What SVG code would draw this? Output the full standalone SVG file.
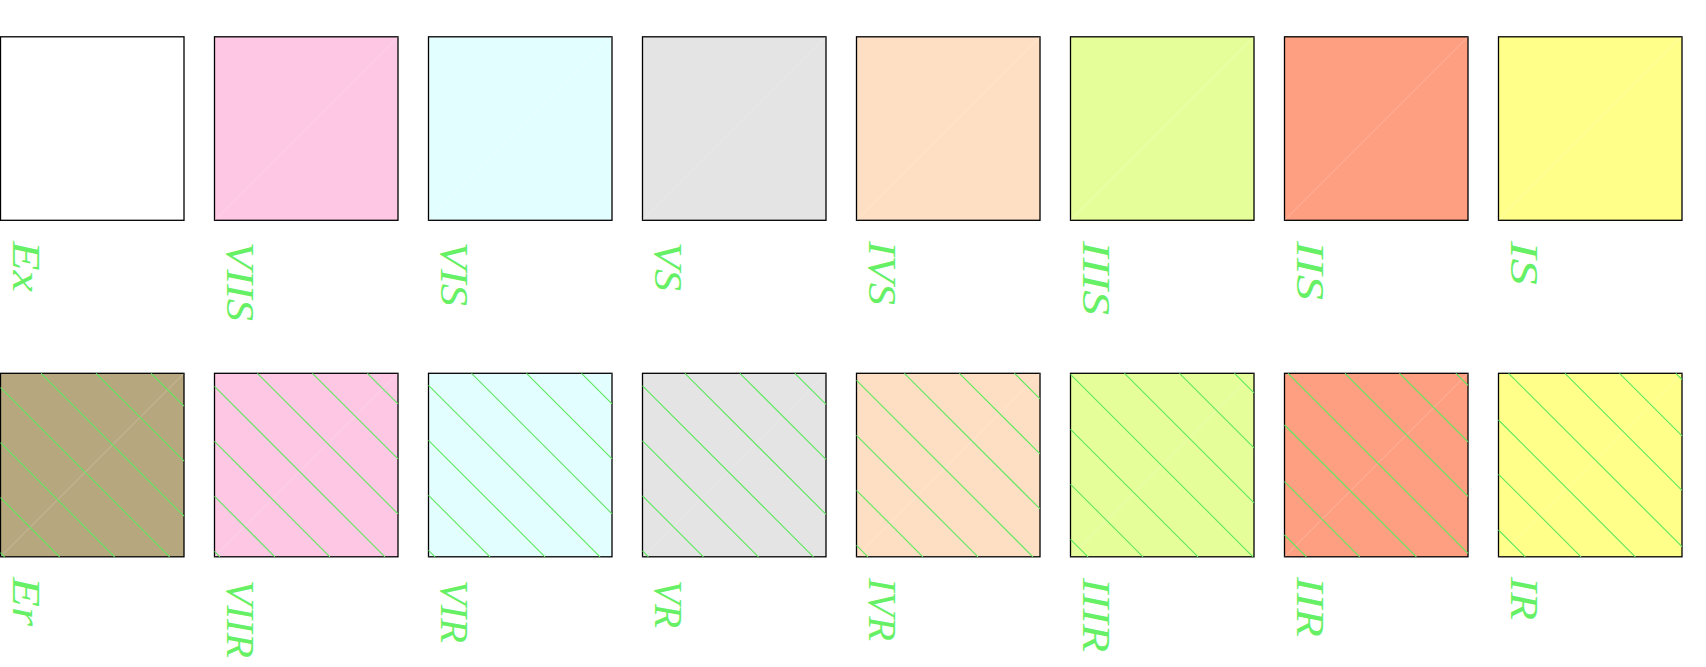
<svg xmlns="http://www.w3.org/2000/svg" width="1706" height="667" viewBox="0 0 1706 667">
<style>
.box{stroke:#000;stroke-width:1.3}
.diag{stroke:#fff;stroke-opacity:0.3;stroke-width:0.8;fill:none}
.hatch{stroke:#5ee85e;stroke-width:1.1;fill:none}
.lbl{font-family:"Liberation Serif","DejaVu Serif",serif;font-style:italic;font-size:40px;fill:#66f066}
</style>
<rect width="1706" height="667" fill="#fff"/>
<g id="connectors"></g>

<!-- top row -->
<g id="Ex">
<rect class="box" x="0.5" y="36.8" width="183.5" height="183.5" fill="#ffffff"/>
<text class="lbl" transform="translate(12.5,241) rotate(90)" textLength="51" lengthAdjust="spacingAndGlyphs">Ex</text>
</g>
<g id="VIIS">
<rect class="box" x="214.5" y="36.8" width="183.5" height="183.5" fill="#fec7e4"/>
<line class="diag" x1="214.5" y1="220.3" x2="398" y2="36.8"/>
<text class="lbl" transform="translate(226.5,242) rotate(90)" textLength="79" lengthAdjust="spacingAndGlyphs">VIIS</text>
</g>
<g id="VIS">
<rect class="box" x="428.5" y="36.8" width="183.5" height="183.5" fill="#e3fefe"/>
<line class="diag" x1="428.5" y1="220.3" x2="612" y2="36.8"/>
<text class="lbl" transform="translate(440.5,242) rotate(90)" textLength="64" lengthAdjust="spacingAndGlyphs">VIS</text>
</g>
<g id="VS">
<rect class="box" x="642.5" y="36.8" width="183.5" height="183.5" fill="#e4e4e4"/>
<line class="diag" x1="642.5" y1="220.3" x2="826" y2="36.8"/>
<text class="lbl" transform="translate(654.5,242) rotate(90)" textLength="49" lengthAdjust="spacingAndGlyphs">VS</text>
</g>
<g id="IVS">
<rect class="box" x="856.5" y="36.8" width="183.5" height="183.5" fill="#fedfc3"/>
<line class="diag" x1="856.5" y1="220.3" x2="1040" y2="36.8"/>
<text class="lbl" transform="translate(868.5,241) rotate(90)" textLength="64" lengthAdjust="spacingAndGlyphs">IVS</text>
</g>
<g id="IIIS">
<rect class="box" x="1070.5" y="36.8" width="183.5" height="183.5" fill="#e5fe99"/>
<line class="diag" x1="1070.5" y1="220.3" x2="1254" y2="36.8"/>
<text class="lbl" transform="translate(1082.5,241) rotate(90)" textLength="74" lengthAdjust="spacingAndGlyphs">IIIS</text>
</g>
<g id="IIS">
<rect class="box" x="1284.5" y="36.8" width="183.5" height="183.5" fill="#fe9f81"/>
<line class="diag" x1="1284.5" y1="220.3" x2="1468" y2="36.8"/>
<text class="lbl" transform="translate(1296.5,241) rotate(90)" textLength="59" lengthAdjust="spacingAndGlyphs">IIS</text>
</g>
<g id="IS">
<rect class="box" x="1498.5" y="36.8" width="183.5" height="183.5" fill="#ffff89"/>
<line class="diag" x1="1498.5" y1="220.3" x2="1682" y2="36.8"/>
<text class="lbl" transform="translate(1510.5,241) rotate(90)" textLength="44" lengthAdjust="spacingAndGlyphs">IS</text>
</g>

<!-- bottom row -->
<g id="Er">
<rect class="box" x="0.5" y="373.3" width="183.5" height="183.5" fill="#b6a77e"/>
<line class="diag" x1="0.5" y1="556.8" x2="184" y2="373.3"/>
<path class="hatch" d="M151.1,373.3L184,406.2M96.1,373.3L184,461.2M41.1,373.3L184,516.2M0.5,387.7L169.6,556.8M0.5,442.7L114.6,556.8M0.5,497.7L59.6,556.8M0.5,552.7L4.6,556.8"/>
<text class="lbl" transform="translate(12.5,577) rotate(90)" textLength="49" lengthAdjust="spacingAndGlyphs">Er</text>
</g>
<g id="VIIR">
<rect class="box" x="214.5" y="373.3" width="183.5" height="183.5" fill="#fec7e4"/>
<line class="diag" x1="214.5" y1="556.8" x2="398" y2="373.3"/>
<path class="hatch" d="M367.4,373.3L398,403.9M312.4,373.3L398,458.9M257.4,373.3L398,513.9M214.5,386.4L384.9,556.8M214.5,441.4L329.9,556.8M214.5,496.4L274.9,556.8M214.5,551.4L219.9,556.8"/>
<text class="lbl" transform="translate(226.5,580) rotate(90)" textLength="78" lengthAdjust="spacingAndGlyphs">VIIR</text>
</g>
<g id="VIR">
<rect class="box" x="428.5" y="373.3" width="183.5" height="183.5" fill="#e3fefe"/>
<line class="diag" x1="428.5" y1="556.8" x2="612" y2="373.3"/>
<path class="hatch" d="M581.5,373.3L612,403.8M526.5,373.3L612,458.8M471.5,373.3L612,513.8M428.5,385.3L600,556.8M428.5,440.3L545,556.8M428.5,495.3L490,556.8M428.5,550.3L435,556.8"/>
<text class="lbl" transform="translate(440.5,580) rotate(90)" textLength="63" lengthAdjust="spacingAndGlyphs">VIR</text>
</g>
<g id="VR">
<rect class="box" x="642.5" y="373.3" width="183.5" height="183.5" fill="#e4e4e4"/>
<line class="diag" x1="642.5" y1="556.8" x2="826" y2="373.3"/>
<path class="hatch" d="M794.9,373.3L826,404.4M739.9,373.3L826,459.4M684.9,373.3L826,514.4M642.5,385.9L813.4,556.8M642.5,440.9L758.4,556.8M642.5,495.9L703.4,556.8M642.5,550.9L648.4,556.8"/>
<text class="lbl" transform="translate(654.5,580) rotate(90)" textLength="48" lengthAdjust="spacingAndGlyphs">VR</text>
</g>
<g id="IVR">
<rect class="box" x="856.5" y="373.3" width="183.5" height="183.5" fill="#fedfc3"/>
<line class="diag" x1="856.5" y1="556.8" x2="1040" y2="373.3"/>
<path class="hatch" d="M1014.4,373.3L1040,398.9M959.4,373.3L1040,453.9M904.4,373.3L1040,508.9M856.5,380.4L1032.9,556.8M856.5,435.4L977.9,556.8M856.5,490.4L922.9,556.8M856.5,545.4L867.9,556.8"/>
<text class="lbl" transform="translate(868.5,578) rotate(90)" textLength="63" lengthAdjust="spacingAndGlyphs">IVR</text>
</g>
<g id="IIIR">
<rect class="box" x="1070.5" y="373.3" width="183.5" height="183.5" fill="#e5fe99"/>
<line class="diag" x1="1070.5" y1="556.8" x2="1254" y2="373.3"/>
<path class="hatch" d="M1234.5,373.3L1254,392.8M1179.5,373.3L1254,447.8M1124.5,373.3L1254,502.8M1070.5,374.3L1253,556.8M1070.5,429.3L1198,556.8M1070.5,484.3L1143,556.8M1070.5,539.3L1088,556.8"/>
<text class="lbl" transform="translate(1082.5,578) rotate(90)" textLength="74" lengthAdjust="spacingAndGlyphs">IIIR</text>
</g>
<g id="IIR">
<rect class="box" x="1284.5" y="373.3" width="183.5" height="183.5" fill="#fe9f81"/>
<line class="diag" x1="1284.5" y1="556.8" x2="1468" y2="373.3"/>
<path class="hatch" d="M1455.9,373.3L1468,385.4M1399.5,373.3L1468,441.8M1345,373.3L1468,496.3M1288,373.3L1468,553.3M1284.5,425L1416.3,556.8M1284.5,481.7L1359.6,556.8M1284.5,535L1306.3,556.8"/>
<text class="lbl" transform="translate(1296.5,577) rotate(90)" textLength="60" lengthAdjust="spacingAndGlyphs">IIR</text>
</g>
<g id="IR">
<rect class="box" x="1498.5" y="373.3" width="183.5" height="183.5" fill="#ffff89"/>
<line class="diag" x1="1498.5" y1="556.8" x2="1682" y2="373.3"/>
<path class="hatch" d="M1675.8,373.3L1682,379.5M1619.5,373.3L1682,435.8M1565,373.3L1682,490.3M1508.6,373.3L1682,546.7M1498.5,420L1635.3,556.8M1498.5,474.3L1581,556.8M1498.5,530L1525.3,556.8"/>
<text class="lbl" transform="translate(1510.5,577) rotate(90)" textLength="43" lengthAdjust="spacingAndGlyphs">IR</text>
</g>
</svg>
